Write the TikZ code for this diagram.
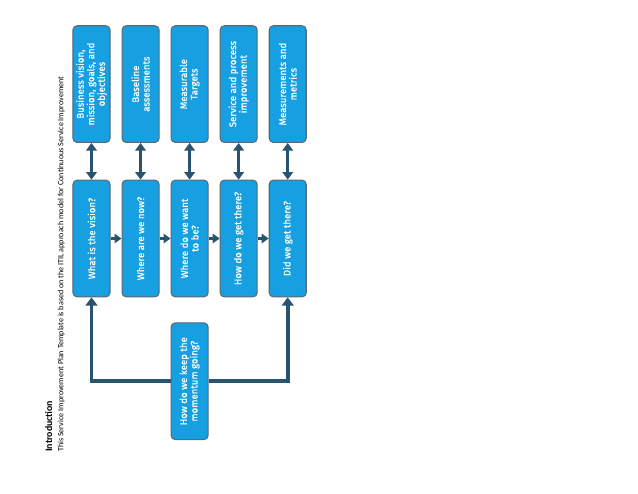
\documentclass[tikz,border=0pt]{standalone}
\usepackage{fontspec}
\setmainfont{Carlito}
\newfontfamily\boxfont{Fira Sans}[FakeBold=0.5]
\usepackage{tikz}
\usetikzlibrary {arrows.meta,
                 positioning}
\definecolor{boxblue}{RGB}{22,160,226}
\definecolor{boxedge}{RGB}{92,104,114}
\definecolor{darkteal}{RGB}{40,84,112}
\newcommand{\upright}[1]{\rotatebox{90}{\parbox{3.3cm}{\centering #1}}}
\tikzset{
        base/.style={draw=boxedge, line width=0.9pt, align=center},
        stepbox/.style={base, rectangle, rounded corners=3.5pt, fill=boxblue,
                        text=white, font=\boxfont\fontsize{8.2}{9}\selectfont,
                        minimum width=1.11cm, minimum height=3.5cm, inner sep=0pt},
        biarrow/.style={{Triangle[width=9pt,length=6.5pt]}-{Triangle[width=9pt,length=6.5pt]},
                        draw=darkteal, line width=3pt},
        myarrow/.style={-{Triangle[width=8pt,length=6pt]}, draw=darkteal, line width=2.4pt},
        looparrow/.style={-{Triangle[width=10pt,length=7pt]}, draw=darkteal, line width=3.2pt},
 }
\begin{document}
\begin{tikzpicture}[x=0.03cm, y=-0.03cm]
    \useasboundingbox (0,0) rectangle (638,493);

    \node[stepbox] (vision) at (91.5,238.5) {\upright{What is the vision?}};
    \node[stepbox, right=0.33cm of vision] (now) {\upright{Where are we now?}};
    \node[stepbox, right=0.33cm of now] (want) {\upright{Where do we want\\ to be?}};
    \node[stepbox, right=0.33cm of want] (get) {\upright{How do we get there?}};
    \node[stepbox, right=0.33cm of get] (did) {\upright{Did we get there?}};

    \node[stepbox, above=1.1cm of vision] (business) {\upright{Business vision,\\ mission, goals, and\\ objectives}};
    \node[stepbox, above=1.1cm of now] (baseline) {\upright{Baseline\\ assessments}};
    \node[stepbox, above=1.1cm of want] (targets) {\upright{Measurable\\ Targets}};
    \node[stepbox, above=1.1cm of get] (service) {\upright{Service and process\\ improvement}};
    \node[stepbox, above=1.1cm of did] (metrics) {\upright{Measurements and\\ metrics}};

    \node[stepbox, below=0.75cm of want] (momentum) {\upright{How do we keep the\\ momentum going?}};

    \node[rotate=90, anchor=north west, inner sep=0pt, font=\bfseries\fontsize{8.4}{9}\selectfont] (intro) at (45,452) {Introduction};
    \node[rotate=90, anchor=north west, inner sep=0pt, font=\fontsize{6.9}{7.5}\selectfont] (note) at (57.5,452)
        {This Service Improvement Plan Template is based on the ITIL approach model for Continuous Service Improvement};

    \draw[biarrow] (business) -- (vision);
    \draw[biarrow] (baseline) -- (now);
    \draw[biarrow] (targets) -- (want);
    \draw[biarrow] (service) -- (get);
    \draw[biarrow] (metrics) -- (did);

    \draw[myarrow] (vision) -- (now);
    \draw[myarrow] (now) -- (want);
    \draw[myarrow] (want) -- (get);
    \draw[myarrow] (get) -- (did);

    \draw[looparrow] (momentum.west) -| (vision.south);
    \draw[looparrow] (momentum.east) -| (did.south);
\end{tikzpicture}
\end{document}
